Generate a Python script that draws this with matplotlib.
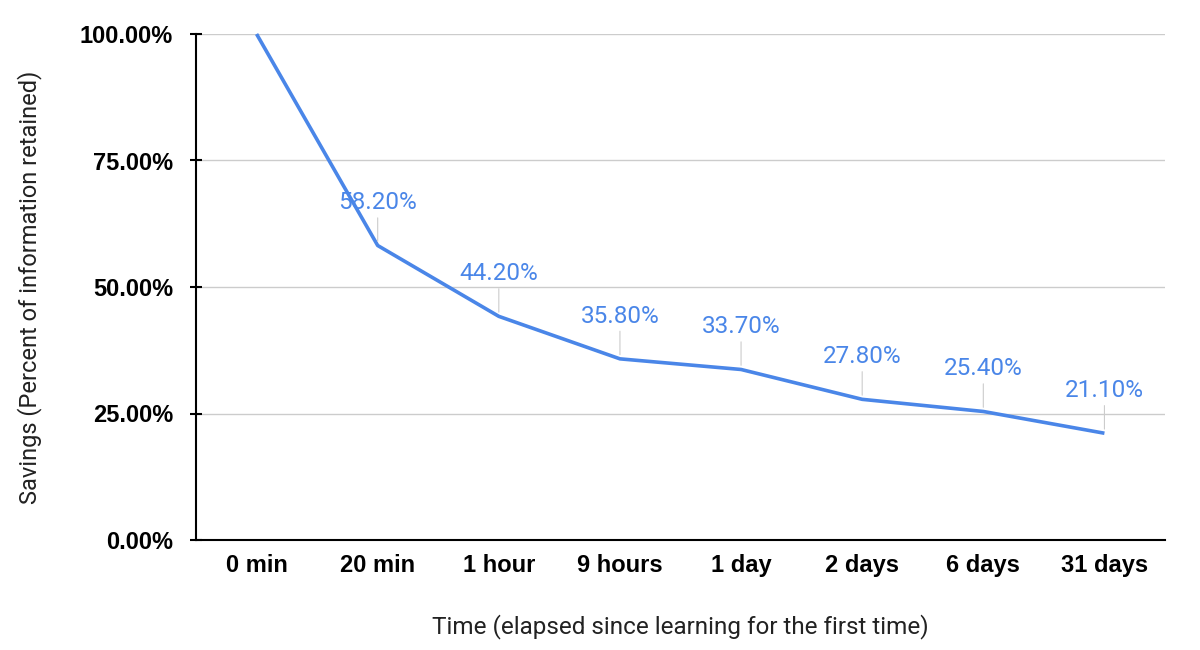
import matplotlib
matplotlib.use("Agg")
import matplotlib.pyplot as plt
from matplotlib.ticker import FuncFormatter

categories = ["0 min", "20 min", "1 hour", "9 hours", "1 day", "2 days", "6 days", "31 days"]
savings = [100.0, 58.2, 44.2, 35.8, 33.7, 27.8, 25.4, 21.1]
yticks = [0, 25, 50, 75, 100]

BLUE = "#4a86e8"
GRID = "#cccccc"

fig = plt.figure(figsize=(12, 6.5), dpi=100)
ax = fig.add_axes([196/1200, 1-540/650, (1165-196)/1200, (540-34)/650])

x = list(range(len(categories)))
ax.plot(x, savings, color=BLUE, linewidth=2.6, solid_capstyle="butt", zorder=3, clip_on=False)

for xi, v in zip(x[1:], savings[1:]):
    ax.annotate(f"{v:.2f}%", xy=(xi, v), xytext=(0, 26), textcoords="offset points",
                ha="center", va="baseline", color=BLUE, fontsize=17.5, family="Roboto",
                arrowprops=dict(arrowstyle="-", color=GRID, lw=0.8, shrinkA=0.5, shrinkB=3),
                zorder=4)

ax.set_xlim(-0.5, 7.5)
ax.set_ylim(0, 100)
ax.set_yticks(yticks)
ax.yaxis.set_major_formatter(FuncFormatter(lambda v, p: f"{v:.2f}%"))
ax.set_xticks(x)
ax.set_xticklabels(categories)

for lab in ax.get_xticklabels() + ax.get_yticklabels():
    lab.set_fontfamily("Liberation Sans")
    lab.set_fontweight("bold")
    lab.set_fontsize(17)

ax.tick_params(axis="x", length=0, pad=10)
ax.tick_params(axis="y", length=9, width=1.5, direction="inout", pad=12, color="black")
ax.grid(axis="y", color=GRID, linewidth=1)
ax.set_axisbelow(True)
for s in ["top", "right"]:
    ax.spines[s].set_visible(False)
ax.spines["left"].set_linewidth(1.5)
ax.spines["bottom"].set_linewidth(1.5)

ax.set_xlabel("Time (elapsed since learning for the first time)", fontsize=17.5,
              family="Roboto", labelpad=27, color="#222222")
ax.set_ylabel("Savings (Percent of information retained)", fontsize=17,
              family="Roboto", labelpad=27, color="#222222")

fig.savefig("out.png", dpi=100, facecolor="white")
